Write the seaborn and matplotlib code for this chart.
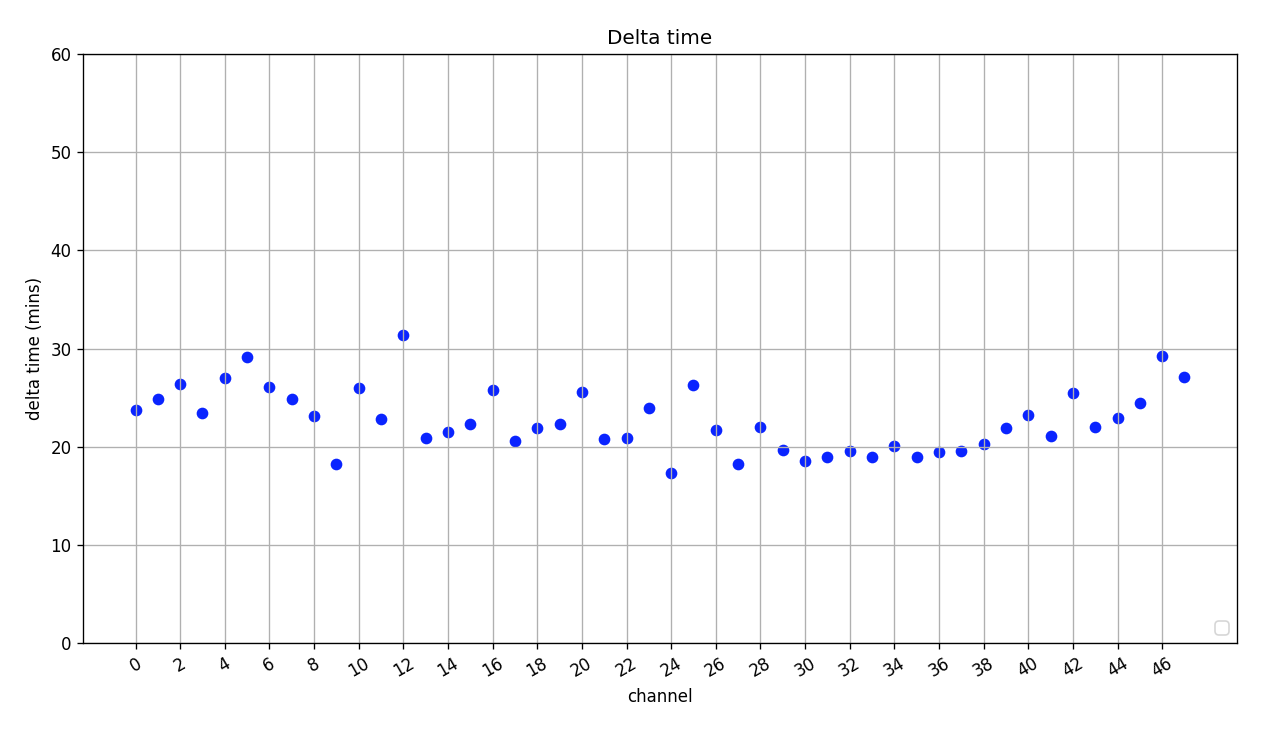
import matplotlib
matplotlib.use('Agg')
import matplotlib.pyplot as plt
import numpy as np
import pandas as pd
import seaborn as sns

# delta time per channel
channels = list(range(48))
delta_mins = [23.7, 24.9, 26.4, 23.4, 27.0, 29.1, 26.1, 24.9, 23.1, 18.2,
              26.0, 22.8, 31.4, 20.9, 21.5, 22.3, 25.8, 20.6, 21.9, 22.3,
              25.6, 20.8, 20.9, 23.9, 17.3, 26.3, 21.7, 18.2, 22.0, 19.7,
              18.5, 18.9, 19.6, 19.0, 20.1, 19.0, 19.5, 19.6, 20.3, 21.9,
              23.2, 21.1, 25.5, 22.0, 22.9, 24.4, 29.2, 27.1]

df = pd.DataFrame({'channel': channels, 'delta': delta_mins})

fig = plt.figure(figsize=(1268 / 120, 738 / 120), dpi=120)
ax = fig.add_axes([0.0655, 0.1287, 0.91, 0.7981])

sns.scatterplot(data=df, x='channel', y='delta', color='#0a24ff', s=36,
                edgecolor='#0a24ff', linewidth=1.0, ax=ax)

ax.set_ylim(0, 60)
ax.set_xticks(np.arange(0, 48, 2))
plt.setp(ax.get_xticklabels(), rotation=30)
ax.grid(True)
ax.set_title('Delta time')
ax.set_xlabel('channel')
ax.set_ylabel('delta time (mins)')
ax.legend(loc='lower right')

fig.savefig('out.png', dpi=120)
